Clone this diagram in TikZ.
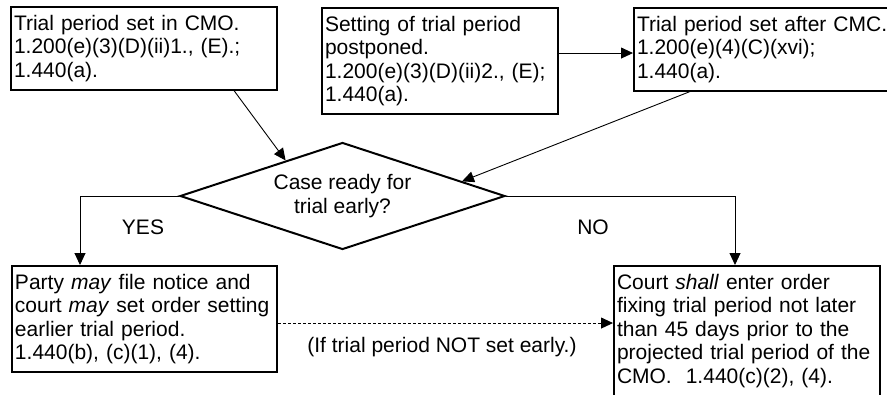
\documentclass[tikz,border=0pt]{standalone}
\usepackage{fontspec}
\setmainfont{Liberation Sans}
\usetikzlibrary{shapes.geometric,arrows.meta}
\tikzset{
	box/.style={draw, line width=2pt, anchor=north west, align=left, inner xsep=3pt, inner ysep=8pt},
	link/.style={line width=0.9pt, -{Triangle[length=12pt,width=11pt]}},
}
\begin{document}
\begin{tikzpicture}[x=1pt, y=-1pt, line join=miter, font=\fontsize{21}{23.5}\selectfont]
				\useasboundingbox (0,0) rectangle (887,394);
				\node[box, text width=260pt] (incmo) at (10,6) {Trial period set in CMO.\\1.200(e)(3)(D)(ii)1., (E).;\\1.440(a).};
				\node[box, text width=230pt] (postponed) at (321,7) {Setting of trial period\\postponed.\\1.200(e)(3)(D)(ii)2., (E);\\1.440(a).};
				\node[box, text width=256pt] (aftercmc) at (633,7) {Trial period set after CMC.\\1.200(e)(4)(C)(xvi);\\1.440(a).};
				\node[diamond, draw, line width=2pt, shape aspect=3, inner sep=0pt, minimum width=325pt, minimum height=107pt, align=center] (ready) at (342.5,196) {Case ready for\\trial early?};
				\node[box, text width=259pt] (early) at (11,265) {Party \emph{may} file notice and\\court \emph{may} set order setting\\earlier trial period.\\1.440(b), (c)(1), (4).};
				\node[box, text width=260pt] (shall) at (613,265) {Court \emph{shall} enter order\\fixing trial period not later\\than 45 days prior to the\\projected trial period of the\\CMO.\ \ 1.440(c)(2), (4).};
				\coordinate (P) at ([yshift=8pt]postponed.east);
				\coordinate (Q) at ([yshift=-4pt]early.east);
				\draw[link] (P) -- (P -| aftercmc.west);
				\draw[link] ([xshift=-44pt]incmo.south east) -- (ready.148);
				\draw[link] ([xshift=57pt]aftercmc.south west) -- (ready.7);
				\draw[link] (ready.west) -| ([xshift=69pt]early.north west);
				\draw[link] (ready.east) -| ([xshift=122pt]shall.north west);
				\draw[link, dash pattern=on 3pt off 2pt] (Q) -- (Q -| shall.west);
				\node (yes) at (143,227) {YES};
				\node (no) at (593,227) {NO};
				\node (notset) at (442,347) {(If trial period NOT set early.)};
			\end{tikzpicture}
\end{document}
